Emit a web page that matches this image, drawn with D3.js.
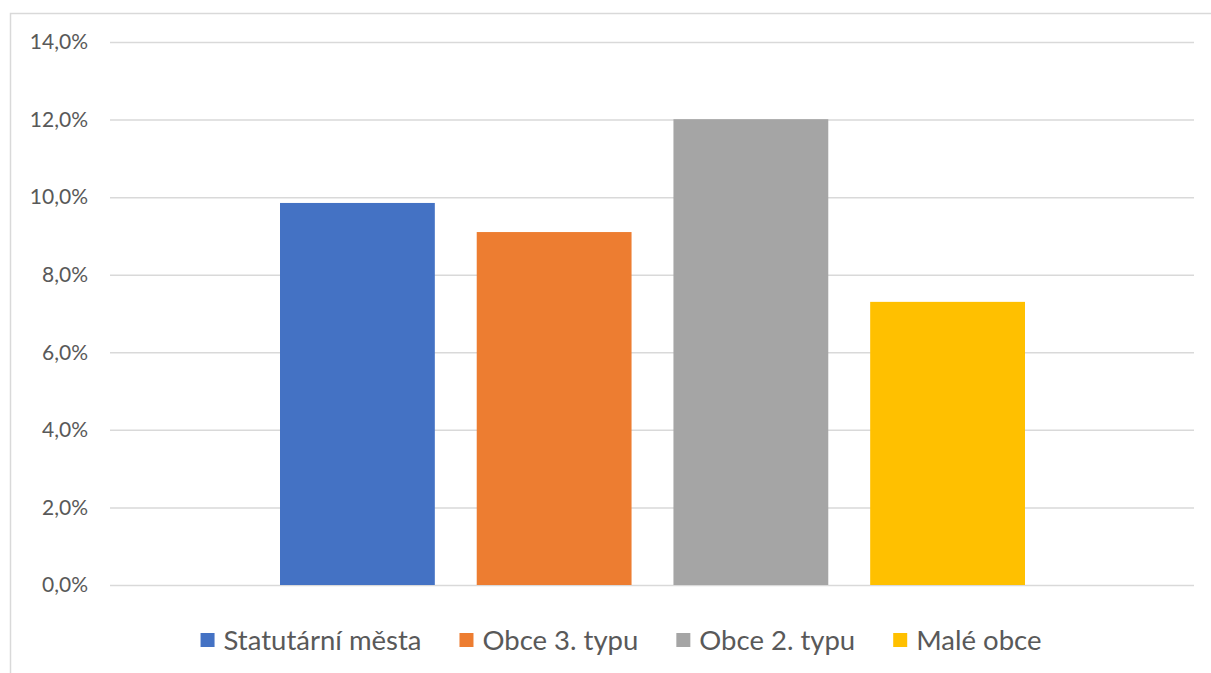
<!DOCTYPE html>
<html>
<head>
<meta charset="utf-8">
<script src="https://cdn.jsdelivr.net/npm/d3@7"></script>
<style>
  body { margin: 0; background: #fff; }
  text { font-family: Lato, "Open Sans", sans-serif; fill: #595959; }
</style>
</head>
<body>
<script>
var series = ["Statutární města", "Obce 3. typu", "Obce 2. typu", "Malé obce"];
var values = [0.0985, 0.091, 0.1201, 0.073];
var colors = ["#4472c4", "#ed7d31", "#a5a5a5", "#ffc000"];
var ticks = [0, 0.02, 0.04, 0.06, 0.08, 0.10, 0.12, 0.14];

var width = 1211,
    height = 673;

var svg = d3.select("body").append("svg")
    .attr("width", width)
    .attr("height", height)

// chart frame (only top and left edges fall inside the view)
svg.append("rect")
    .attr("x", 10.5).attr("y", 13.5)
    .attr("width", 1300).attr("height", 800)
    .attr("fill", "none")
    .attr("stroke", "#d9d9d9")
    .attr("stroke-width", 1.5)

var plotLeft = 110, plotRight = 1194, plotTop = 42, plotBottom = 585;

var y = d3.scaleLinear().domain([0, 0.14]).range([plotBottom, plotTop]);
var x = d3.scaleBand().domain(series).range([280, 1025]).paddingInner(0.213);

var fmt = function (d) { return d3.format(".1f")(d * 100).replace(".", ",") + "%" };

var yAxis = svg.append("g")
    .attr("transform", "translate(" + plotLeft + ",0)")
    .call(d3.axisLeft(y).tickValues(ticks).tickFormat(fmt).tickSize(-(plotRight - plotLeft)).tickPadding(22))
yAxis.select(".domain").remove()
yAxis.selectAll("line").attr("stroke", "#d9d9d9").attr("stroke-width", 1.5)
yAxis.selectAll("text").style("font-size", "21px").attr("fill", "#595959")

svg.selectAll("rect.bar")
    .data(values)
    .enter().append("rect")
    .attr("class", "bar")
    .attr("x", function (d, i) { return x(series[i]) })
    .attr("width", x.bandwidth())
    .attr("y", function (d) { return y(d) })
    .attr("height", function (d) { return y(0) - y(d) })
    .attr("fill", function (d, i) { return colors[i] })

/* legend, laid out from measured text widths */
var legend = svg.append("g")
var items = legend.selectAll("g").data(series).enter().append("g")
items.append("rect")
    .attr("width", 14).attr("height", 14).attr("y", -7)
    .attr("fill", function (d, i) { return colors[i] })
items.append("text")
    .attr("x", 23).attr("dy", "0.35em")
    .style("font-size", "27.5px")
    .text(function (d) { return d })

var pos = 0, offsets = [];
items.each(function () {
    offsets.push(pos);
    pos += this.getBBox().width + 38;
})
pos -= 38;
var startX = 621 - pos / 2;
items.attr("transform", function (d, i) { return "translate(" + (startX + offsets[i]) + ",640)" })
</script>
</body>
</html>
